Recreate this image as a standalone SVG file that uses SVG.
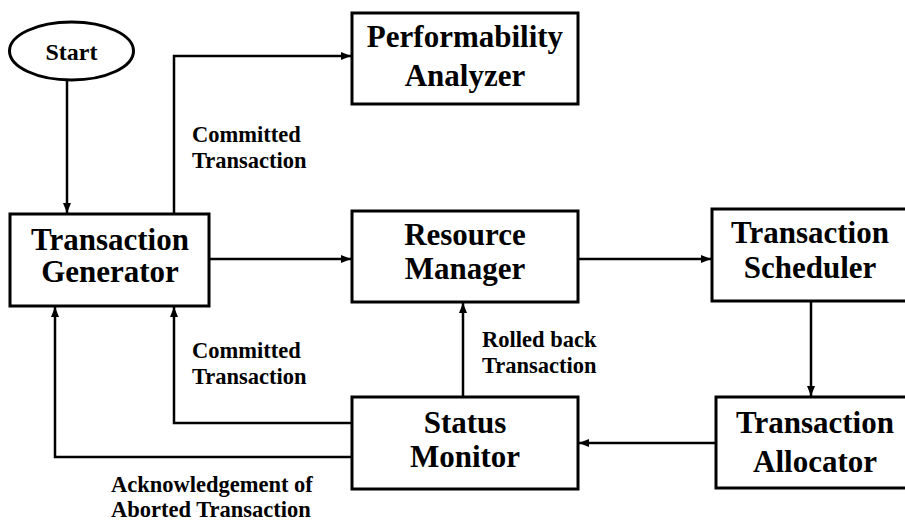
<svg xmlns="http://www.w3.org/2000/svg" width="905" height="521" viewBox="0 0 905 521">
<style>
.box{fill:#fff;stroke:#000;stroke-width:3}
.nt{font-family:"Liberation Serif","Times New Roman",serif;font-weight:bold;font-size:31px;fill:#000;text-anchor:middle}
.lt{font-family:"Liberation Serif","Times New Roman",serif;font-weight:bold;font-size:22.5px;fill:#000}
.ln{fill:none;stroke:#000;stroke-width:2.5;marker-end:url(#ah)}
</style>
<defs>
<marker id="ah" viewBox="0 0 10 8" refX="10" refY="4" markerWidth="10" markerHeight="8" markerUnits="userSpaceOnUse" orient="auto">
<path d="M0,0 L10,4 L0,8 Z" fill="#000"/>
</marker>
</defs>
<rect width="905" height="521" fill="#fff"/>
<g id="connectors">
<path class="ln" d="M67,81 V213"/>
<path class="ln" d="M174,213 V56 H351"/>
<path class="ln" d="M209,259 H351"/>
<path class="ln" d="M578,259 H711"/>
<path class="ln" d="M811,301 V396"/>
<path class="ln" d="M716,443 H579"/>
<path class="ln" d="M463,397 V303"/>
<path class="ln" d="M352,423 H174 V307"/>
<path class="ln" d="M352,457 H55 V307"/>
<text class="lt" x="192" y="142">Committed</text>
<text class="lt" x="192" y="168">Transaction</text>
<text class="lt" x="482" y="347">Rolled back</text>
<text class="lt" x="482" y="373">Transaction</text>
<text class="lt" x="192" y="358">Committed</text>
<text class="lt" x="192" y="384">Transaction</text>
<text class="lt" x="111" y="492">Acknowledgement of</text>
<text class="lt" x="111" y="517">Aborted Transaction</text>
</g>
<g id="start">
<ellipse class="box" cx="71.5" cy="51" rx="62" ry="29"/>
<text class="nt" x="71.5" y="60" style="font-size:24px">Start</text>
</g>
<g id="performability-analyzer">
<rect class="box" x="352" y="13" width="226" height="91"/>
<text class="nt" x="465" y="47">Performability</text>
<text class="nt" x="465" y="86">Analyzer</text>
</g>
<g id="transaction-generator">
<rect class="box" x="10" y="214" width="199" height="92"/>
<text class="nt" x="110" y="250">Transaction</text>
<text class="nt" x="110" y="282">Generator</text>
</g>
<g id="resource-manager">
<rect class="box" x="352" y="211" width="226" height="91"/>
<text class="nt" x="465" y="245">Resource</text>
<text class="nt" x="465" y="279">Manager</text>
</g>
<g id="transaction-scheduler">
<rect class="box" x="712" y="209" width="200" height="92"/>
<text class="nt" x="810" y="243">Transaction</text>
<text class="nt" x="810" y="278">Scheduler</text>
</g>
<g id="transaction-allocator">
<rect class="box" x="716" y="397" width="200" height="91"/>
<text class="nt" x="815" y="433">Transaction</text>
<text class="nt" x="815" y="472">Allocator</text>
</g>
<g id="status-monitor">
<rect class="box" x="352" y="397" width="226" height="92"/>
<text class="nt" x="465" y="433">Status</text>
<text class="nt" x="465" y="467">Monitor</text>
</g>
</svg>
